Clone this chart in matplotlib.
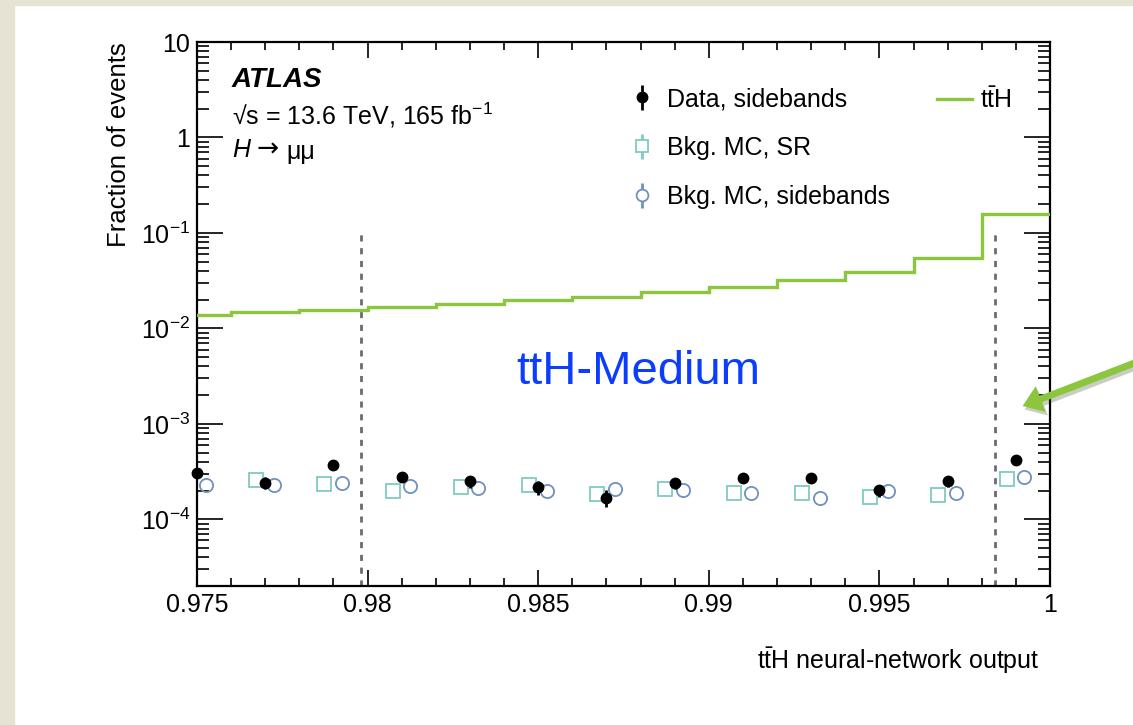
import numpy as np
import matplotlib
matplotlib.use('Agg')
import matplotlib.pyplot as plt
from matplotlib.patches import Rectangle, FancyArrowPatch
from matplotlib.ticker import LogLocator, MultipleLocator, FuncFormatter, NullFormatter
import matplotlib.patheffects as pe

plt.rcParams['font.family'] = ['Liberation Sans', 'DejaVu Sans']
plt.rcParams['mathtext.fontset'] = 'custom'
plt.rcParams['mathtext.rm'] = 'Liberation Sans'
plt.rcParams['mathtext.it'] = 'Liberation Sans:italic'
plt.rcParams['mathtext.bf'] = 'Liberation Sans:bold'

# ---------------------------------------------------------------------------
# data
# ---------------------------------------------------------------------------
bin_centres = [0.975, 0.977, 0.979, 0.981, 0.983, 0.985, 0.987,
               0.989, 0.991, 0.993, 0.995, 0.997, 0.999]

data_sb   = [3.08e-4, 2.42e-4, 3.67e-4, 2.80e-4, 2.49e-4, 2.16e-4, 1.69e-4,
             2.38e-4, 2.73e-4, 2.69e-4, 2.01e-4, 2.52e-4, 4.21e-4]
data_err  = [0.15e-4, 0.35e-4, 0.30e-4, 0.30e-4, 0.35e-4, 0.35e-4, 0.35e-4,
             0.30e-4, 0.30e-4, 0.30e-4, 0.30e-4, 0.35e-4, 0.35e-4]
mc_sr     = [np.nan, 2.56e-4, 2.34e-4, 1.98e-4, 2.16e-4, 2.27e-4, 1.84e-4,
             2.07e-4, 1.87e-4, 1.90e-4, 1.70e-4, 1.81e-4, 2.66e-4]
mc_sb     = [2.31e-4, 2.31e-4, 2.38e-4, 2.23e-4, 2.14e-4, 1.96e-4, 2.06e-4,
             2.01e-4, 1.90e-4, 1.67e-4, 1.96e-4, 1.90e-4, 2.80e-4]

tth_edges = [0.974, 0.976, 0.978, 0.980, 0.982, 0.984, 0.986, 0.988,
             0.990, 0.992, 0.994, 0.996, 0.998, 1.000]
tth_frac  = [0.0138, 0.0150, 0.0157, 0.0169, 0.0182, 0.0197, 0.0215,
             0.0241, 0.0272, 0.0319, 0.0393, 0.0551, 0.158]

cat_bounds = [0.9798, 0.9984]

C_GREEN = '#8cc63f'; C_SQ = '#7fcbc1'; C_CIRC = '#7090bd'
C_DASH = '#6b6b6b'; C_BEIGE = '#e6e2d4'; C_BLUE = '#0b3dff'

W, H = 1133, 725
fig = plt.figure(figsize=(W / 100, H / 100), dpi=100, facecolor='white')
# slide border
fig.patches.append(Rectangle((0, 0), 14 / W, 1, transform=fig.transFigure,
                             color=C_BEIGE, zorder=0))
fig.patches.append(Rectangle((0, 1 - 5 / H), 1, 5 / H, transform=fig.transFigure,
                             color=C_BEIGE, zorder=0))

ax = fig.add_axes([197 / W, 1 - 586 / H, 853 / W, 544 / H])
ax.set_yscale('log')
ax.set_xlim(0.975, 1.0)
ax.set_ylim(2e-5, 10)

x = np.array(bin_centres)

ax.stairs(tth_frac, tth_edges, baseline=None, color=C_GREEN, lw=2.4, zorder=3)

for xb in cat_bounds:
    ax.plot([xb, xb], [2e-5, 0.1], color=C_DASH, lw=2.0, linestyle=(0, (2.2, 2.4)), zorder=2)

h_data = ax.errorbar(x, data_sb, yerr=data_err, fmt='o', color='black', ms=7.5, lw=2,
                     capsize=0, zorder=6, clip_on=False)
ax.plot(x - 0.00027, mc_sr, 's', mfc='none', mec=C_SQ, mew=1.3, ms=10, zorder=5)
ax.plot(x + 0.00025, mc_sb, 'o', mfc='none', mec=C_CIRC, mew=1.3, ms=9.5, zorder=5)

# legend proxies (error-bar style, as in the original)
h_sr = ax.errorbar([], [], yerr=[], fmt='s', mfc='white', mec=C_SQ, mew=1.3, ms=8.5,
                   color=C_SQ, lw=2)
h_sb = ax.errorbar([], [], yerr=[], fmt='o', mfc='white', mec=C_CIRC, mew=1.3, ms=8.5,
                   color=C_CIRC, lw=2)

# axis styling (ROOT-like)
for s in ax.spines.values():
    s.set_linewidth(1.6)
ax.xaxis.set_major_locator(MultipleLocator(0.005))
ax.xaxis.set_minor_locator(MultipleLocator(0.001))
ax.xaxis.set_major_formatter(FuncFormatter(lambda v, p: '1' if abs(v - 1) < 1e-9 else f'{v:g}'))
ax.yaxis.set_major_locator(LogLocator(base=10, numticks=20))
ax.yaxis.set_minor_locator(LogLocator(base=10, subs=np.arange(2, 10), numticks=20))
ax.yaxis.set_minor_formatter(NullFormatter())

def ylab(v, p):
    e = int(round(np.log10(v)))
    if e == 0:
        return '1'
    if e == 1:
        return '10'
    return r'$10^{' + str(e).replace('-', '\u2212') + '}$'
ax.yaxis.set_major_formatter(FuncFormatter(ylab))

ax.tick_params(axis='both', which='both', direction='in', top=True, right=True,
               labelsize=18, width=1.2, pad=5)
ax.tick_params(axis='x', which='major', length=11.5)
ax.tick_params(axis='x', which='minor', length=5.8)
ax.tick_params(axis='y', which='major', length=18.5)
ax.tick_params(axis='y', which='minor', length=8.6)

ax.set_xlabel(r'$\mathrm{t\bar{t}H}$ neural-network output', fontsize=18, ha='right')
ax.xaxis.set_label_coords((1040 - 197) / 853, -(661 - 586) / 544)
ax.xaxis.label.set_va('center')
ax.set_ylabel('Fraction of events', fontsize=18.5, ha='right')
ax.yaxis.set_label_coords(-(197 - 119) / 853, 1.0)
ax.yaxis.label.set_va('center')

# labels
fig.text(232 / W, 1 - 80 / H, 'ATLAS', fontsize=20, fontweight='bold', style='italic',
         va='center', ha='left')
fig.text(232 / W, 1 - 115 / H, '\u221as = 13.6 TeV, 165 fb$^{\\mathrm{-1}}$', fontsize=18,
         va='center', ha='left')
fig.text(232 / W, 1 - 150 / H, 'H', fontsize=18, style='italic', va='center', ha='left')
fig.text(256 / W, 1 - 150 / H, '\u2192', fontsize=19, family='DejaVu Sans',
         va='center', ha='left')
fig.text(286 / W, 1 - 152 / H, 'μμ', fontsize=18, va='center', ha='left')
fig.text(638 / W, 1 - 372 / H, 'ttH-Medium', fontsize=34, color=C_BLUE,
         va='center', ha='center')

# legends
leg1 = ax.legend(handles=[h_data, h_sr, h_sb],
                 labels=['Data, sidebands', 'Bkg. MC, SR', 'Bkg. MC, sidebands'],
                 loc='upper left',
                 bbox_to_anchor=(630 / W, 1 - 87 / H), bbox_transform=fig.transFigure,
                 frameon=False, fontsize=18, handlelength=1.0, handletextpad=0.5,
                 labelspacing=1.0, borderpad=0, borderaxespad=0)
ax.add_artist(leg1)
ax.legend(handles=[plt.Line2D([], [], color=C_GREEN, lw=2.4)], labels=[r'$\mathrm{t\bar{t}H}$'],
          loc='upper left', bbox_to_anchor=(937 / W, 1 - 87 / H), bbox_transform=fig.transFigure,
          frameon=False, fontsize=18, handlelength=1.4, handletextpad=0.32,
          borderpad=0, borderaxespad=0)

# slide annotation arrow
arr = FancyArrowPatch((1145 / W, 1 - 359 / H), (1020 / W, 1 - 407 / H),
                      transform=fig.transFigure,
                      arrowstyle='simple,head_length=1.4,head_width=2.0,tail_width=0.5',
                      mutation_scale=10, color=C_GREEN, lw=0, zorder=10)
arr.set_path_effects([pe.SimplePatchShadow(offset=(1.5, -2.5), alpha=0.25), pe.Normal()])
fig.patches.append(arr)

fig.savefig('out.png', dpi=100, facecolor='white')
